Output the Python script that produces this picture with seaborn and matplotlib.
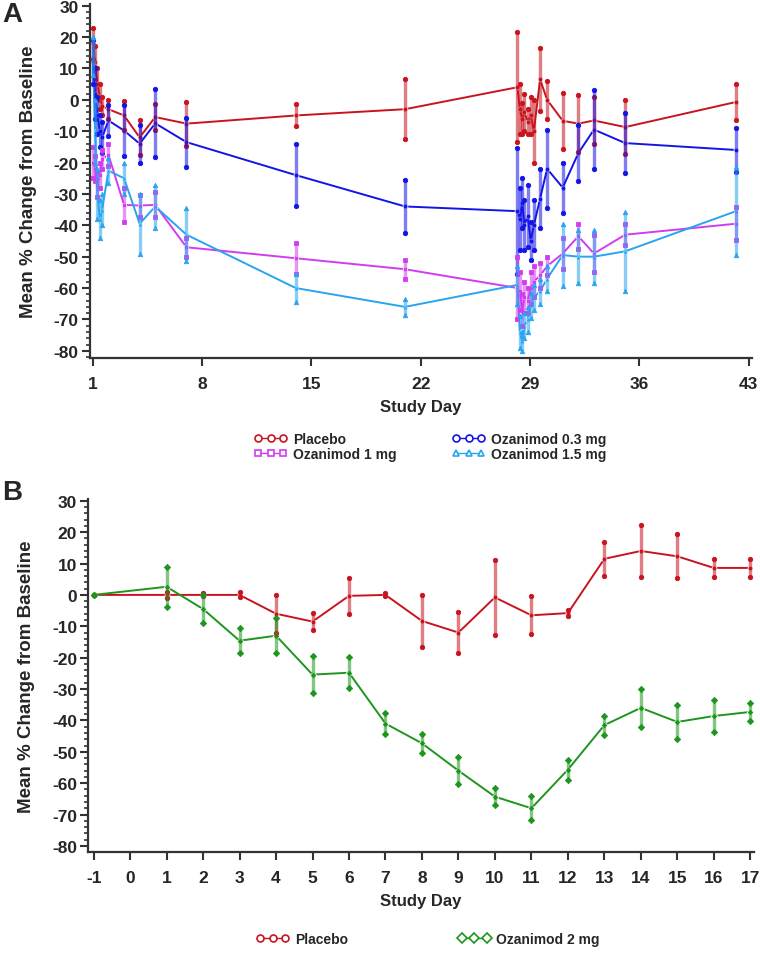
import numpy as np
import pandas as pd
import matplotlib
matplotlib.use("Agg")
import matplotlib.pyplot as plt
import seaborn as sns
from matplotlib.lines import Line2D
from matplotlib.ticker import MultipleLocator

# ---------------- data ----------------
# Panel A: study days (day 1 and day 28 have several post-dose samples)
days_a = [1.0, 1.15, 1.3, 1.45, 1.6, 2, 3, 4, 5, 7, 14, 21,
          28.2, 28.35, 28.5, 28.65, 28.85, 29.05, 29.25, 29.65, 30.1,
          31.1, 32.1, 33.1, 35.1, 42.2]

placebo_a_mean = [18, 12, 5, 1, -2, -3, -5, -12, -5.5, -7.6, -5, -3,
                  4, -3, -6, -4, -7, -5, -10, 6.5, 0,
                  -6.7, -7.6, -6.6, -8.7, -0.7]
placebo_a_se = [5, 5, 5, 4, 3, 3, 4.5, 5.5, 4, 7, 3.5, 9.5,
                17.5, 8, 5, 6, 4, 6, 10, 10, 6,
                9, 9, 7.5, 8.5, 5.8]

oz03_mean = [12, 2, -5, -10, -12, -6.6, -9.8, -14, -7.5, -13.5, -24, -34,
             -35.5, -38, -33, -40, -37, -45, -40, -31.5, -22,
             -28, -17, -9.5, -13.8, -16]
oz03_se = [7, 8, 6, 5, 5, 5, 8, 6, 10.8, 7.8, 10, 8.5,
           20, 10, 8, 8, 10, 6, 8, 9.5, 12.5,
           8, 9, 12.7, 9.5, 7]

oz1_mean = [-20, -22, -27, -24, -19, -17.5, -33.5, -33.7, -33.5, -47, -50.5, -54,
            -60, -61, -67, -63, -64, -60, -58, -56, -53,
            -49, -43.5, -49, -43, -39.5]
oz1_se = [5, 4, 4, 4, 3, 3.5, 5.5, 3.5, 4, 3, 5, 3,
          10, 6, 5, 5, 4, 5, 5, 4, 3,
          5, 4, 6, 3.3, 5.2]

oz15_mean = [14, -10, -30, -38, -35, -22.6, -25, -39.5, -34, -43, -60, -66,
             -59, -74, -77, -72, -70, -65.5, -63, -61, -57,
             -49.5, -50, -50, -48.3, -35.5]
oz15_se = [6, 10, 8, 6, 5, 4, 5, 9.5, 7, 8.5, 4.6, 2.5,
           6, 5, 3, 4, 4, 4, 4, 4, 4,
           10, 8.5, 8.5, 12.5, 14]

# Panel B
days_b = [-1, 1, 2, 3, 4, 5, 6, 7, 8, 9, 10, 11, 12, 13, 14, 15, 16, 17]
placebo_b_mean = [0, 0, 0, 0, -6, -8.5, -0.3, 0, -8.3, -12, -0.8, -6.5,
                  -5.8, 11.5, 14, 12.3, 8.6, 8.6]
placebo_b_se = [0, 1, 0.5, 0.8, 6, 2.8, 5.8, 0.5, 8.3, 6.5, 12, 6,
                1, 5.5, 8.2, 7, 2.8, 2.8]
oz2_mean = [0, 2.6, -4.5, -14.6, -13, -25.4, -24.8, -41, -47.3, -56, -64.3, -68,
            -55.7, -41.5, -36, -40.5, -38.6, -37.3]
oz2_se = [0, 6.4, 4.6, 3.9, 5.6, 5.8, 4.9, 3.3, 3, 4.3, 2.6, 3.8,
          3.2, 3, 6, 5.3, 5, 3]

ticks_a = [1, 8, 15, 22, 29, 36, 43]
ticks_b = list(range(-1, 18))

groups_a = ['Placebo', 'Ozanimod 1 mg', 'Ozanimod 0.3 mg', 'Ozanimod 1.5 mg']
groups_b = ['Placebo', 'Ozanimod 2 mg']

colors = {'Placebo': '#C8141E', 'Ozanimod 0.3 mg': '#1414E6',
          'Ozanimod 1 mg': '#D23CF0', 'Ozanimod 1.5 mg': '#28A5F0',
          'Ozanimod 2 mg': '#1E961E'}
markers = {'Placebo': 'o', 'Ozanimod 0.3 mg': 'o', 'Ozanimod 1 mg': 's',
           'Ozanimod 1.5 mg': '^', 'Ozanimod 2 mg': 'D'}


def long_frame(days, series):
    rows = []
    for name, (m, s) in series.items():
        for d, mm, ss in zip(days, m, s):
            rows.append((name, d, mm, ss))
    return pd.DataFrame(rows, columns=['group', 'day', 'mean', 'se'])


df_a = long_frame(days_a, {'Placebo': (placebo_a_mean, placebo_a_se),
                           'Ozanimod 0.3 mg': (oz03_mean, oz03_se),
                           'Ozanimod 1 mg': (oz1_mean, oz1_se),
                           'Ozanimod 1.5 mg': (oz15_mean, oz15_se)})
df_b = long_frame(days_b, {'Placebo': (placebo_b_mean, placebo_b_se),
                           'Ozanimod 2 mg': (oz2_mean, oz2_se)})

# ---------------- style ----------------
sns.set_style("ticks")
plt.rcParams['font.family'] = ['Liberation Sans', 'DejaVu Sans']
plt.rcParams['font.weight'] = 'bold'
plt.rcParams['axes.labelweight'] = 'bold'

fig = plt.figure(figsize=(7.6, 9.54), dpi=100)
ax_a = fig.add_axes([0.118, 0.624, 0.871, 0.371])
ax_b = fig.add_axes([0.116, 0.106, 0.876, 0.370])


def draw_panel(ax, df, order):
    sub = df[df['group'].isin(order)]
    sns.lineplot(data=sub, x='day', y='mean', hue='group', style='group',
                 hue_order=order, style_order=order,
                 palette=colors, markers=markers, dashes=False,
                 estimator=None, sort=True, legend=False, ax=ax,
                 linewidth=1.4, markersize=3.5, markeredgewidth=0.6)
    for name in order:
        g = sub[sub['group'] == name]
        c = colors[name]
        ax.errorbar(g['day'], g['mean'], yerr=g['se'], fmt='none',
                    ecolor=c, elinewidth=2.4, alpha=0.55, capsize=0)
        for sign in (1, -1):
            ax.plot(g['day'], g['mean'] + sign * g['se'], ls='none',
                    marker=markers[name], ms=3.2, color=c, mec=c, mew=0.6)


draw_panel(ax_a, df_a, ['Placebo', 'Ozanimod 0.3 mg', 'Ozanimod 1 mg', 'Ozanimod 1.5 mg'])
draw_panel(ax_b, df_b, groups_b)

tick_font = dict(family=['Liberation Sans', 'DejaVu Sans'], weight='bold', size=12.5)

for ax, xt, xlim, ylim in [(ax_a, ticks_a, (0.8, 43.2), (-82.2, 30.6)),
                           (ax_b, ticks_b, (-1.15, 17.1), (-81.9, 30.6))]:
    ax.set_xlim(*xlim)
    ax.set_ylim(*ylim)
    ax.set_xticks(xt)
    ax.set_xticklabels([str(t) for t in xt], fontdict=tick_font)
    yt = list(range(-80, 31, 10))
    ax.set_yticks(yt)
    ax.set_yticklabels([str(t) for t in yt], fontdict=tick_font)
    ax.yaxis.set_minor_locator(MultipleLocator(2))
    ax.tick_params(axis='both', which='major', direction='out', length=6,
                   width=1.5, color='#333333')
    ax.tick_params(axis='x', which='major', pad=7)
    ax.tick_params(axis='y', which='major', pad=2)
    ax.tick_params(axis='y', which='minor', direction='out', length=3,
                   width=1.2, color='#333333')
    for sp in ['top', 'right']:
        ax.spines[sp].set_visible(False)
    for sp in ['left', 'bottom']:
        ax.spines[sp].set_linewidth(1.6)
        ax.spines[sp].set_color('#333333')
    ax.set_xlabel('Study Day', fontsize=12, fontweight='bold', labelpad=6)
    ax.set_ylabel('Mean % Change from Baseline', fontsize=13.5, fontweight='bold', labelpad=12)


def legend_handles(order):
    return [Line2D([0], [0], color=colors[n], lw=1.0, marker=markers[n], ms=5,
                   mfc='white', mec=colors[n], mew=1.2) for n in order]


fig.legend(handles=legend_handles(groups_a), labels=groups_a, ncol=2,
           loc='center', bbox_to_anchor=(0.566, 0.531), frameon=False, numpoints=3,
           handlelength=2.4, handletextpad=0.4, columnspacing=4.0,
           labelspacing=0.1, prop=dict(size=10, weight='bold'))
fig.legend(handles=legend_handles(groups_b), labels=groups_b, ncol=2,
           loc='center', bbox_to_anchor=(0.563, 0.0147), frameon=False, numpoints=3,
           handlelength=2.4, handletextpad=0.4, columnspacing=7.9,
           prop=dict(size=10, weight='bold'))

fig.text(0.003, 0.998, 'A', fontsize=20, fontweight='bold', va='top', ha='left')
fig.text(0.003, 0.497, 'B', fontsize=20, fontweight='bold', va='top', ha='left')

fig.savefig('out.png', dpi=100)
